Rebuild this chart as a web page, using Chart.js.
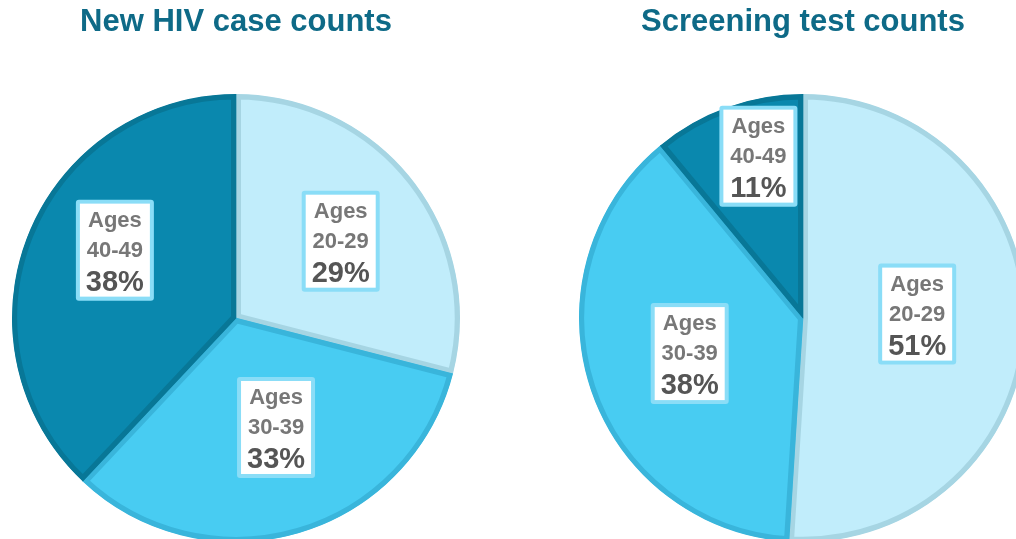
<!DOCTYPE html>
<html><head><meta charset="utf-8">
<script src="https://cdn.jsdelivr.net/npm/chart.js@4/dist/chart.umd.min.js"></script>
<style>
html,body{margin:0;padding:0;background:#fff;width:1016px;height:539px;overflow:hidden;position:relative}
.wrap{position:absolute;top:0;width:472px;height:583px}
canvas{display:block}
</style></head>
<body>
<div class="wrap" style="left:0"><canvas id="c1" width="472" height="583"></canvas></div>
<div class="wrap" style="left:567px"><canvas id="c2" width="472" height="583"></canvas></div>
<script>
const categories = ["20-29", "30-39", "40-49"];
const newCaseShare = [29, 33, 38];
const screeningShare = [51, 38, 11];
const titles = ["New HIV case counts", "Screening test counts"];

const fills = ["#C1EDFB", "#48CCF2", "#0A88AE"];
const borders = ["#A6D5E3", "#39B5DB", "#087797"];
const FONT = "'Liberation Sans', Arial, sans-serif";

// label placement: [radius fraction, angle tweak in degrees]
const labelPlace1 = [[0.58, 1.5], [0.52, -3.9], [0.62, 7.7]];
const labelPlace2 = [[0.51, -3.8], [0.53, 0.6], [0.75, 4.4]];

function labelPlugin(place) {
  return {
    id: 'boxLabels',
    afterDatasetsDraw(chart) {
      const ctx = chart.ctx;
      const meta = chart.getDatasetMeta(0);
      const vals = chart.data.datasets[0].data;
      meta.data.forEach((arc, i) => {
        const p = arc.getProps(['x', 'y', 'startAngle', 'endAngle', 'outerRadius'], true);
        const mid = (p.startAngle + p.endAngle) / 2 + place[i][1] * Math.PI / 180;
        const r = p.outerRadius * place[i][0];
        const cx = p.x + Math.cos(mid) * r;
        const cy = p.y + Math.sin(mid) * r;
        const w = 78, h = 101, bw = 4;
        const x0 = cx - w / 2, y0 = cy - h / 2;
        ctx.save();
        ctx.fillStyle = "#8ADDF7";
        ctx.beginPath();
        ctx.roundRect(x0, y0, w, h, 3);
        ctx.fill();
        ctx.fillStyle = "#FFFFFF";
        ctx.fillRect(x0 + bw, y0 + bw, w - 2 * bw, h - 2 * bw);
        ctx.textAlign = "center";
        ctx.textBaseline = "alphabetic";
        ctx.fillStyle = "#777777";
        ctx.font = "bold 22px " + FONT;
        ctx.fillText("Ages", cx, y0 + 27);
        ctx.fillText(chart.data.labels[i], cx, y0 + 57);
        ctx.fillStyle = "#555555";
        ctx.font = "bold 29px " + FONT;
        ctx.fillText(vals[i] + "%", cx, y0 + 91);
        ctx.restore();
      });
    }
  };
}

function makePie(id, title, values, place) {
  return new Chart(document.getElementById(id), {
    type: 'pie',
    data: {
      labels: categories,
      datasets: [{
        data: values,
        backgroundColor: fills,
        borderColor: borders,
        borderWidth: 5,
        borderAlign: 'inner'
      }]
    },
    options: {
      responsive: false,
      animation: false,
      devicePixelRatio: 1,
      radius: 224,
      layout: { padding: 0 },
      plugins: {
        legend: { display: false },
        tooltip: { enabled: false },
        title: {
          display: true,
          text: title,
          color: "#0E6A87",
          font: { family: FONT, size: 31, weight: 'bold', lineHeight: 1.2 },
          padding: { top: 4, bottom: 12 }
        }
      }
    },
    plugins: [labelPlugin(place)]
  });
}

makePie('c1', titles[0], newCaseShare, labelPlace1);
makePie('c2', titles[1], screeningShare, labelPlace2);
</script>
</body></html>
